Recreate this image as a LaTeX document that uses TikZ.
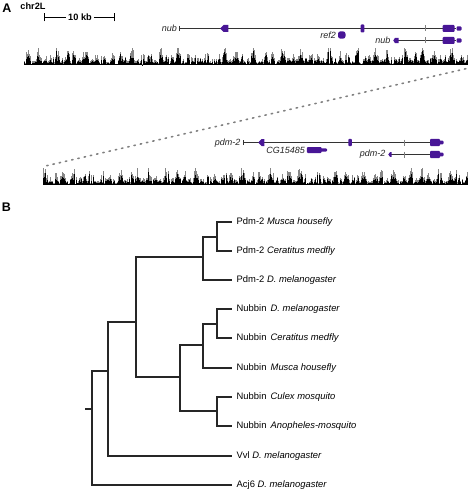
\documentclass[tikz,border=0pt]{standalone}
\usepackage{fontspec}
\setmainfont{Liberation Sans}
\definecolor{exon}{RGB}{72,22,150}
\definecolor{covgray}{RGB}{135,135,135}
\begin{document}
\begin{tikzpicture}[x=1pt,y=-1pt,
  branch/.style={line width=1.6pt, black!85, line cap=rect},
  leaf/.style={anchor=west, inner xsep=5.5pt, inner ysep=0pt, font=\fontsize{9.4}{11}\selectfont},
  glabel/.style={anchor=east, inner sep=0.5pt, font=\fontsize{9}{10}\selectfont\itshape, text=black!85},
  gline/.style={line width=1.2pt, black!80},
  gtick/.style={line width=0.5pt, black!50},
  exonf/.style={fill=exon, rounded corners=1pt},
  panel/.style={font=\fontsize{12.5}{13}\selectfont\bfseries},
  bold9/.style={font=\fontsize{9.2}{10}\selectfont\bfseries},
  zoomline/.style={gray, line width=1.6pt, dash pattern=on 1.4pt off 5pt, line cap=round}]
\useasboundingbox (0,0) rectangle (472,492);

% ---------------- Panel A ----------------
\node[panel] (A) at (7,8) {A};
\node[bold9] (chr) at (33,6.5) {chr2L};
\node[bold9, fill=white, inner xsep=2pt] (kb) at (80,17.5) {10 kb};
\coordinate (sbL) at (44.5,17.5);
\coordinate (sbR) at (114.5,17.5);
\draw[line width=1pt] (sbL) -- (kb.west) (kb.east) -- (sbR);
\draw[line width=1pt] ([yshift=-4]sbL) -- ([yshift=4]sbL) ([yshift=-4]sbR) -- ([yshift=4]sbR);

% coverage tracks
\pgfmathsetseed{11}
\foreach \i in {0,...,443} {
  \pgfmathsetmacro{\m}{0.2+0.8*abs(0.6*sin(\i*31)+0.4*sin(\i*7.3+20))}
  \pgfmathsetmacro{\g}{rnd<0.1 ? 1+2*rnd : 17*min(1,\m*(0.5+0.7*rnd))}
  \pgfmathsetmacro{\b}{\g*(0.4+0.45*rnd)}
  \fill[covgray] (24+\i,65) rectangle (25+\i,65-\g);
  \fill[black] (24+\i,65) rectangle (25+\i,65-\b);
}
\foreach \i in {0,...,424} {
  \pgfmathsetmacro{\m}{0.2+0.8*abs(0.6*sin(\i*31+50)+0.4*sin(\i*7.3+70))}
  \pgfmathsetmacro{\g}{rnd<0.1 ? 1+2*rnd : 17*min(1,\m*(0.5+0.7*rnd))}
  \pgfmathsetmacro{\b}{\g*(0.4+0.45*rnd)}
  \fill[covgray] (43+\i,185) rectangle (44+\i,185-\g);
  \fill[black] (43+\i,185) rectangle (44+\i,185-\b);
}

% zoom line
\coordinate (zA) at (46.7,165.7);
\coordinate (zB) at (469,68);
\draw[zoomline] (zA) -- (zB);

% top nub gene
\node[glabel] (nub1) at (177.5,28) {nub};
\draw[gline] (179.5,28.5) -- (456,28.5);
\draw[gline] (179.5,26) -- (179.5,31);
\fill[exon] (220,28.5) -- (223.5,25) -- (228.3,25) -- (228.3,32) -- (223.5,32) -- cycle;
\fill[exonf] (360.7,24.5) rectangle (364.3,32.5);
\draw[gtick] (425,25.5) -- (425,31.5);
\fill[exonf] (442.7,25) rectangle (454.5,32);
\fill[exonf] (456.5,26.3) rectangle (461.5,30.7);

% ref2
\node[glabel] (ref2) at (336.5,35) {ref2};
\fill[exon, rounded corners=2.5pt] (338,31.3) rectangle (345.5,38.7);

% lower nub gene
\node[glabel] (nub2) at (391,40) {nub};
\draw[gline] (393.5,40.5) -- (456,40.5);
\fill[exon] (393.3,40.5) -- (395,37.8) -- (398.5,37.8) -- (398.5,43.2) -- (395,43.2) -- cycle;
\draw[gtick] (425,37.5) -- (425,43.5);
\fill[exonf] (442.7,37) rectangle (454.5,44);
\fill[exonf] (456.5,38.3) rectangle (461.5,42.7);

% upper pdm-2 gene
\node[glabel] (pdm1) at (241,142.7) {pdm-2};
\draw[gline] (243.3,142.5) -- (442,142.5);
\draw[gline] (243.3,140) -- (243.3,145);
\fill[exon] (258.3,142.5) -- (261.5,139) -- (264.3,139) -- (264.3,146) -- (261.5,146) -- cycle;
\fill[exonf] (348.3,138.8) rectangle (351.8,146.2);
\draw[gtick] (404.3,139.5) -- (404.3,145.5);
\fill[exonf] (430,138.8) rectangle (440,146.2);
\fill[exonf] (439,140.6) rectangle (443.5,144.4);

% CG15485
\node[glabel] (cg) at (305.5,150) {CG15485};
\fill[exonf] (306.8,147) rectangle (321.5,153);
\fill[exonf] (320,148.3) rectangle (327,151.7);

% lower pdm-2 gene
\node[glabel] (pdm2) at (386,154.3) {pdm-2};
\draw[gline] (388.5,154.5) -- (440,154.5);
\fill[exon] (388.3,154.5) -- (390,152.2) -- (391.5,152.2) -- (391.5,156.8) -- (390,156.8) -- cycle;
\draw[gtick] (404.3,151.5) -- (404.3,157.5);
\fill[exonf] (430,150.8) rectangle (440,158.2);
\fill[exonf] (439,152.6) rectangle (443.5,156.4);

% ---------------- Panel B ----------------
\node[panel] (B) at (6.5,207.5) {B};

\node[leaf] (L1) at (231,222) {Pdm-2 \textit{Musca housefly}};
\node[leaf] (L2) at (231,251) {Pdm-2 \textit{Ceratitus medfly}};
\node[leaf] (L3) at (231,280) {Pdm-2 \textit{D. melanogaster}};
\node[leaf] (L4) at (231,309) {Nubbin\, \textit{D. melanogaster}};
\node[leaf] (L5) at (231,338) {Nubbin\, \textit{Ceratitus medfly}};
\node[leaf] (L6) at (231,368) {Nubbin\, \textit{Musca housefly}};
\node[leaf] (L7) at (231,397) {Nubbin\, \textit{Culex mosquito}};
\node[leaf] (L8) at (231,426) {Nubbin\, \textit{Anopheles-mosquito}};
\node[leaf] (L9) at (231,456) {Vvl \textit{D. melanogaster}};
\node[leaf] (L10) at (231,485) {Acj6 \textit{D. melanogaster}};

\coordinate (n1) at (217,237);
\coordinate (n2) at (203,257);
\coordinate (n3) at (217,324);
\coordinate (n4) at (203,345);
\coordinate (n5) at (217,411);
\coordinate (n6) at (180,377);
\coordinate (n7) at (136,322);
\coordinate (n8) at (108,371);
\coordinate (root) at (92,409);
\coordinate (stub) at (86,409);

\draw[branch] (n1) |- (L1.west);
\draw[branch] (n1) |- (L2.west);
\draw[branch] (n2) |- (n1);
\draw[branch] (n2) |- (L3.west);
\draw[branch] (n3) |- (L4.west);
\draw[branch] (n3) |- (L5.west);
\draw[branch] (n4) |- (n3);
\draw[branch] (n4) |- (L6.west);
\draw[branch] (n5) |- (L7.west);
\draw[branch] (n5) |- (L8.west);
\draw[branch] (n6) |- (n4);
\draw[branch] (n6) |- (n5);
\draw[branch] (n7) |- (n2);
\draw[branch] (n7) |- (n6);
\draw[branch] (n8) |- (n7);
\draw[branch] (n8) |- (L9.west);
\draw[branch] (root) |- (n8);
\draw[branch] (root) |- (L10.west);
\draw[branch] (stub) -- (root);
\end{tikzpicture}
\end{document}
